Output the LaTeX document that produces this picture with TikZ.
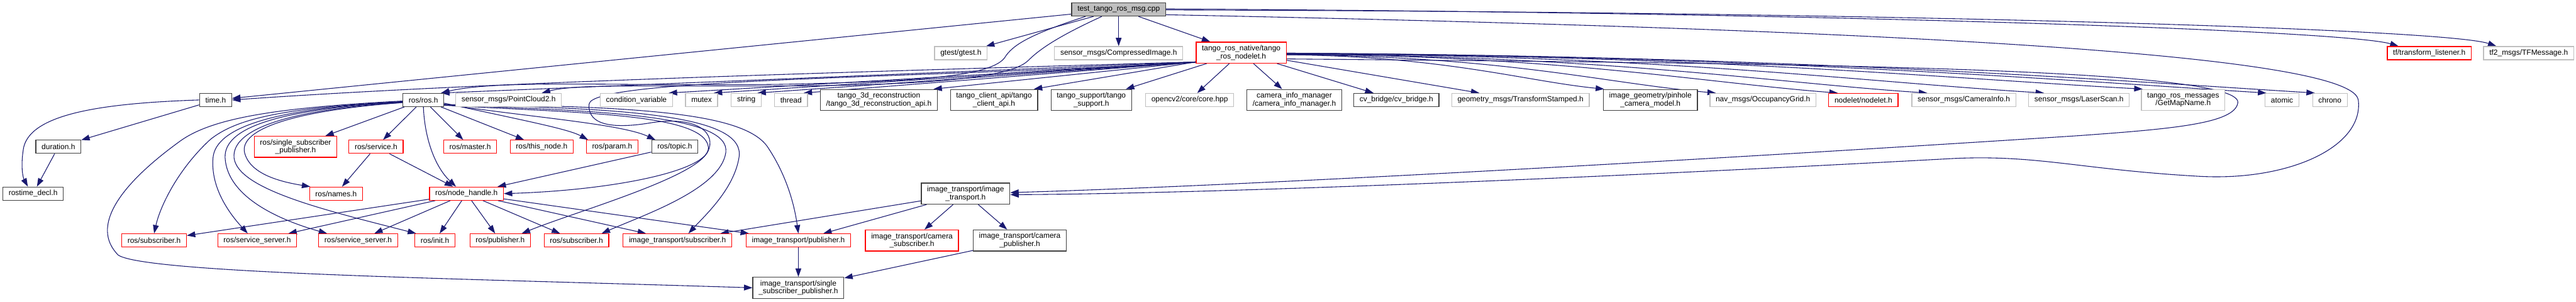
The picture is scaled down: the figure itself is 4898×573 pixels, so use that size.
\documentclass[tikz,border=0pt]{standalone}
\usepackage{fontspec}
\setmainfont{Liberation Sans}
\usepackage{tikz}
\usetikzlibrary{arrows.meta, backgrounds}
\definecolor{edgeblue}{RGB}{25,25,112}
\definecolor{cutred}{RGB}{255,0,0}
\definecolor{extgray}{RGB}{191,191,191}
\definecolor{docgray}{RGB}{64,64,64}

\begin{document}
\begin{tikzpicture}[
    x=1pt, y=-1pt,
    file/.style={rectangle, draw, fill=white, line width=1.5pt, inner xsep=11pt, inner ysep=0pt, minimum height=25pt, align=center, font=\fontsize{14.3}{15}\selectfont},
    docfile/.style={file, draw=docgray},
    extfile/.style={file, draw=extgray},
    cutfile/.style={file, draw=cutred},
    rootfile/.style={file, draw=docgray, fill=extgray},
    twoline/.style={minimum height=40pt},
    dep/.style={draw=edgeblue, line width=1.3pt, -{Triangle[length=16pt,width=11pt]}},
]
    \useasboundingbox (0,0) rectangle (4898,573);

    \node[rootfile] (T) at (2127,18) {test\_tango\_ros\_msg.cpp};

    \node[extfile] (gtest) at (1827,101) {gtest/gtest.h};
    \node[extfile] (compimg) at (2127,101) {sensor\_msgs/CompressedImage.h};
    \node[cutfile, twoline] (nodelet) at (2360,100) {tango\_ros\_native/tango\\\_ros\_nodelet.h};
    \node[cutfile] (tflist) at (4619,101) {tf/transform\_listener.h};
    \node[extfile] (tfmsg) at (4808,101) {tf2\_msgs/TFMessage.h};

    \node[docfile] (timeh) at (410,190) {time.h};
    \node[docfile] (rosros) at (805,190) {ros/ros.h};
    \node[extfile] (pcloud) at (967,190) {sensor\_msgs/PointCloud2.h};
    \node[extfile] (condvar) at (1210,190) {condition\_variable};
    \node[extfile] (mutex) at (1334,190) {mutex};
    \node[extfile] (stringh) at (1419,190) {string};
    \node[extfile] (thread) at (1504,190) {thread};
    \node[docfile, twoline] (recon) at (1671,190) {tango\_3d\_reconstruction\\/tango\_3d\_reconstruction\_api.h};
    \node[docfile, twoline] (client) at (1890,190) {tango\_client\_api/tango\\\_client\_api.h};
    \node[docfile, twoline] (support) at (2075,190) {tango\_support/tango\\\_support.h};
    \node[extfile] (opencv) at (2262,190) {opencv2/core/core.hpp};
    \node[docfile, twoline] (caminfo) at (2461,190) {camera\_info\_manager\\/camera\_info\_manager.h};
    \node[docfile] (cvbridge) at (2655,190) {cv\_bridge/cv\_bridge.h};
    \node[extfile] (tfstamp) at (2891,190) {geometry\_msgs/TransformStamped.h};
    \node[docfile, twoline] (pinhole) at (3138,190) {image\_geometry/pinhole\\\_camera\_model.h};
    \node[extfile] (occgrid) at (3352,190) {nav\_msgs/OccupancyGrid.h};
    \node[cutfile] (nodeleth) at (3543,190) {nodelet/nodelet.h};
    \node[extfile] (caminfomsg) at (3734,190) {sensor\_msgs/CameraInfo.h};
    \node[extfile] (laser) at (3953,190) {sensor\_msgs/LaserScan.h};
    \node[extfile, twoline] (getmap) at (4151,190) {tango\_ros\_messages\\/GetMapName.h};
    \node[extfile] (atomic) at (4339,190) {atomic};
    \node[extfile] (chrono) at (4430,190) {chrono};

    \node[docfile] (duration) at (111,279) {duration.h};
    \node[cutfile, twoline] (rosssp) at (562,279) {ros/single\_subscriber\\\_publisher.h};
    \node[cutfile] (service) at (715,279) {ros/service.h};
    \node[cutfile] (master) at (894,279) {ros/master.h};
    \node[cutfile] (thisnode) at (1030,279) {ros/this\_node.h};
    \node[cutfile] (param) at (1164,279) {ros/param.h};
    \node[docfile] (topic) at (1283,279) {ros/topic.h};

    \node[docfile] (rostime) at (63,368) {rostime\_decl.h};
    \node[cutfile] (names) at (639,368) {ros/names.h};
    \node[cutfile] (nodehandle) at (887,368) {ros/node\_handle.h};
    \node[docfile, twoline] (imgtrans) at (1836,368) {image\_transport/image\\\_transport.h};

    \node[cutfile] (rossub) at (293,457) {ros/subscriber.h};
    \node[cutfile] (srvserver) at (489,457) {ros/service\_server.h};
    \node[cutfile] (srvservertwo) at (681,457) {ros/service\_server.h};
    \node[cutfile] (init) at (827,457) {ros/init.h};
    \node[cutfile] (pub) at (951,457) {ros/publisher.h};
    \node[cutfile] (rossubtwo) at (1096,457) {ros/subscriber.h};
    \node[cutfile] (itsub) at (1288,457) {image\_transport/subscriber.h};
    \node[cutfile] (itpub) at (1518,457) {image\_transport/publisher.h};
    \node[cutfile, twoline] (camsub) at (1734,457) {image\_transport/camera\\\_subscriber.h};
    \node[docfile, twoline] (campub) at (1939,457) {image\_transport/camera\\\_publisher.h};

    \node[docfile, twoline] (sspub) at (1518,547) {image\_transport/single\\\_subscriber\_publisher.h};

    \begin{scope}[on background layer]
    \draw[dep] (T) -- (timeh);
    \draw[dep] (T) -- (gtest);
    \draw[dep] (T) -- (compimg);
    \draw[dep] (T) -- (nodelet);
    \draw[dep] ([xshift=-63pt]T.south) .. controls (1960,65) and (1925,85) .. (1910,110) .. controls (1880,150) and (1700,155) .. (1500,160) .. controls (1200,165) and (950,150) .. ([xshift=-6pt]rosros.north east);
    \draw[dep] ([xshift=-32pt]T.south) .. controls (2010,70) and (1975,95) .. (1955,115) .. controls (1920,150) and (1750,160) .. (1550,163) .. controls (1250,166) and (1100,158) .. ([xshift=-38pt]pcloud.north east);
    \draw[dep] ([yshift=1pt]T.east) .. controls (3500,24) and (4460,58) .. ([xshift=22pt]tflist.north west);
    \draw[dep] ([yshift=-1pt]T.east) .. controls (3600,22) and (4650,55) .. ([xshift=25pt]tfmsg.north west);
    \draw[dep] ([yshift=-10pt]T.east) .. controls (3300,50) and (4470,90) .. (4484,190) .. controls (4495,280) and (4350,345) .. (4180,335) .. controls (3950,322) and (3870,292) .. (3700,302) .. controls (3000,340) and (2300,368) .. ([yshift=-2pt]imgtrans.east);

    \draw[dep] ([yshift=3pt]nodelet.south west) .. controls (1500,140) and (900,158) .. (timeh.east);
    \draw[dep] ([yshift=3pt]nodelet.south west) -- ([xshift=-6pt]rosros.north east);
    \draw[dep] ([yshift=3pt]nodelet.south west) -- ([xshift=-8pt]condvar.north east);
    \draw[dep] ([yshift=3pt]nodelet.south west) -- ([xshift=-8pt]mutex.north east);
    \draw[dep] ([yshift=3pt]nodelet.south west) -- ([xshift=-8pt]stringh.north east);
    \draw[dep] ([yshift=3pt]nodelet.south west) -- ([xshift=-8pt]thread.north east);
    \draw[dep] ([yshift=3pt]nodelet.south west) -- ([xshift=-8pt]recon.north east);
    \draw[dep] ([yshift=3pt]nodelet.south west) -- ([xshift=-8pt]client.north east);
    \draw[dep] (nodelet) -- (support);
    \draw[dep] (nodelet) -- (opencv);
    \draw[dep] (nodelet) -- (caminfo);
    \draw[dep] (nodelet) -- (cvbridge);
    \draw[dep] (nodelet) -- (tfstamp);
    \draw[dep] ([yshift=-4pt]nodelet.east) .. controls +(300,3) and +(-150,-15) .. ([xshift=2pt]pinhole.north west);
    \draw[dep] ([yshift=-4pt]nodelet.east) .. controls +(420,3) and +(-210,-18) .. ([xshift=12pt]occgrid.north west);
    \draw[dep] ([yshift=-3pt]nodelet.east) .. controls +(520,3) and +(-260,-20) .. ([xshift=18pt]nodeleth.north west);
    \draw[dep] ([yshift=-3pt]nodelet.east) .. controls +(610,3) and +(-300,-20) .. ([xshift=30pt]caminfomsg.north west);
    \draw[dep] ([yshift=-2pt]nodelet.east) .. controls +(720,3) and +(-360,-22) .. ([xshift=30pt]laser.north west);
    \draw[dep] ([yshift=-2pt]nodelet.east) .. controls +(800,3) and +(-400,-22) .. ([xshift=3pt]getmap.north west);
    \draw[dep] ([yshift=-1pt]nodelet.east) .. controls +(900,5) and +(-400,-25) .. ([xshift=3pt]atomic.north west);
    \draw[dep] ([yshift=-1pt]nodelet.east) .. controls +(950,5) and +(-400,-25) .. ([xshift=5pt]chrono.north west);
    \draw[dep] ([yshift=2pt]nodelet.south west) .. controls (1700,150) and (1125,150) .. (1120,198) .. controls (1117,240) and (1170,245) .. (1240,233) .. controls (1330,220) and (1362,255) .. (1346,288) .. controls (1325,330) and (1150,362) .. (nodehandle.east);
    \draw[dep] ([yshift=-12pt]nodelet.east) .. controls (3300,120) and (4262,125) .. (4255,195) .. controls (4250,235) and (4130,245) .. (3950,258) .. controls (3300,300) and (2400,352) .. ([yshift=2pt]imgtrans.east);

    \draw[dep] (rosros) -- (rosssp);
    \draw[dep] (rosros) -- (service);
    \draw[dep] (rosros) -- (master);
    \draw[dep] (rosros) -- (thisnode);
    \draw[dep] (rosros.south) .. controls (808,270) and (830,320) .. ([xshift=-20pt]nodehandle.north);
    \draw[dep] ([yshift=-6pt]rosros.east) .. controls (1000,230) and (1080,245) .. ([xshift=4pt]param.north west);
    \draw[dep] ([yshift=-8pt]rosros.east) .. controls (1000,222) and (1180,235) .. ([xshift=8pt]topic.north west);
    \draw[dep] ([yshift=-10pt]rosros.east) .. controls (1100,215) and (1340,215) .. (1347,280) .. controls (1350,330) and (1100,400) .. ([xshift=41pt]pub.north);
    \draw[dep] ([yshift=-10pt]rosros.east) .. controls (1150,210) and (1390,220) .. (1380,290) .. controls (1370,360) and (1220,410) .. ([xshift=48pt]rossubtwo.north);
    \draw[dep] ([yshift=-9pt]rosros.east) .. controls (1200,205) and (1420,220) .. (1405,300) .. controls (1395,360) and (1340,410) .. ([xshift=21pt]itsub.north);
    \draw[dep] ([yshift=-9pt]rosros.east) .. controls (1250,200) and (1420,220) .. (1460,280) .. controls (1500,340) and (1512,400) .. (itpub.north);
    \draw[dep] ([yshift=-2pt]rosros.west) .. controls (520,205) and (400,225) .. (340,270) .. controls (230,350) and (170,430) .. (225,485) .. controls (280,520) and (900,530) .. (sspub.west);
    \draw[dep] ([yshift=-3pt]rosros.west) .. controls (540,205) and (450,225) .. (400,265) .. controls (340,320) and (305,390) .. (rossub.north);
    \draw[dep] ([yshift=-4pt]rosros.west) .. controls (530,205) and (410,240) .. (405,300) .. controls (400,360) and (440,410) .. ([xshift=-18pt]srvserver.north);
    \draw[dep] ([yshift=-4pt]rosros.west) .. controls (540,207) and (425,240) .. (428,300) .. controls (432,370) and (520,415) .. ([xshift=-59pt]srvservertwo.north);
    \draw[dep] ([yshift=-5pt]rosros.west) .. controls (550,208) and (440,245) .. (445,300) .. controls (452,360) and (620,400) .. ([xshift=3pt]init.north west);
    \draw[dep] ([yshift=-5pt]rosros.west) .. controls (560,210) and (455,245) .. (465,290) .. controls (475,330) and (530,345) .. ([xshift=2pt]names.north west);

    \draw[dep] (nodehandle) -- (rossub);
    \draw[dep] (nodehandle) -- (srvserver);
    \draw[dep] (nodehandle) -- (srvservertwo);
    \draw[dep] (nodehandle) -- (init);
    \draw[dep] (nodehandle) -- (pub);
    \draw[dep] (nodehandle) -- (rossubtwo);
    \draw[dep] (nodehandle) -- (itsub);
    \draw[dep] (nodehandle) -- (itpub);
    \draw[dep] (service) -- (names);
    \draw[dep] (service) -- (nodehandle);
    \draw[dep] (topic) -- (nodehandle);

    \draw[dep] (timeh) -- (duration);
    \draw[dep] (timeh.west) .. controls (200,196) and (60,215) .. (45,280) .. controls (38,320) and (45,340) .. ([xshift=-10pt]rostime.north);
    \draw[dep] (duration) -- (rostime);

    \draw[dep] (imgtrans) -- (camsub);
    \draw[dep] (imgtrans) -- (campub);
    \draw[dep] (imgtrans) -- (itsub);
    \draw[dep] (imgtrans) -- (itpub);
    \draw[dep] (itpub) -- (sspub);
    \draw[dep] (campub) -- (sspub);
    \end{scope}
\end{tikzpicture}
\end{document}
